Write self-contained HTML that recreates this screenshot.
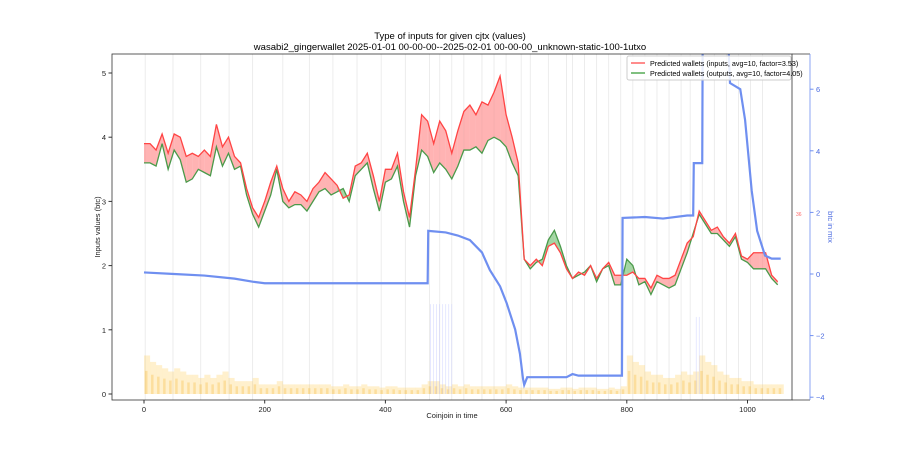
<!DOCTYPE html>
<html><head><meta charset="utf-8"><style>
body{margin:0;background:#fff;}
svg{display:block;font-family:"Liberation Sans","DejaVu Sans",sans-serif;}
</style></head><body>
<svg id="chart" width="900" height="450">
<text x="450" y="39" font-size="9.5" text-anchor="middle">Type of inputs for given cjtx (values)</text>
<text x="450" y="50" font-size="9.5" text-anchor="middle">wasabi2_gingerwallet 2025-01-01 00-00-00--2025-02-01 00-00-00_unknown-static-100-1utxo</text>
<g id="grid"></g>
<g id="bars"></g>
<g id="fills"></g>
<g id="lines"></g>
<g id="axes"></g>
<g>
<rect x="627" y="56" width="164" height="24" fill="#fff" fill-opacity="0.85" stroke="#ccc" rx="2"/>
<line x1="631" y1="63" x2="645" y2="63" stroke="#ff6666" stroke-width="1.5"/>
<text x="650" y="66" font-size="7.2">Predicted wallets (inputs, avg=10, factor=3.53)</text>
<line x1="631" y1="73" x2="645" y2="73" stroke="#55aa55" stroke-width="1.5"/>
<text x="650" y="76" font-size="7.2">Predicted wallets (outputs, avg=10, factor=4.05)</text>
</g>
</svg>
<script>
const xs = [0,10,20,30,40,50,60,70,80,90,100,110,120,130,140,150,160,170,180,190,200,210,220,230,240,250,260,270,280,290,300,310,320,330,340,350,360,370,380,390,400,410,420,430,440,450,460,470,480,490,500,510,520,530,540,550,560,570,580,590,600,610,620,630,640,650,660,670,680,690,700,710,720,730,740,750,760,770,780,790,800,810,820,830,840,850,860,870,880,890,900,910,920,930,940,950,960,970,980,990,1000,1010,1020,1030,1040,1050];
const inputsVals = [3.9,3.9,3.8,4.05,3.75,4.05,4.0,3.7,3.75,3.7,3.8,3.7,4.2,3.85,4.0,3.7,3.6,3.2,2.9,2.75,3.0,3.3,3.55,3.2,3.0,3.15,3.1,3.0,3.2,3.3,3.45,3.35,3.25,3.05,3.1,3.55,3.6,3.75,3.4,3.0,3.5,3.5,3.75,3.15,2.75,3.5,4.35,4.25,3.9,4.25,4.1,3.75,4.1,4.4,4.5,4.35,4.55,4.5,4.7,4.95,4.35,4.0,3.6,2.1,2.0,2.1,2.0,2.3,2.35,2.2,1.95,1.8,1.9,1.85,2.0,1.8,1.95,2.05,1.85,1.85,1.85,1.9,1.8,1.8,1.65,1.85,1.8,1.8,1.85,2.1,2.35,2.45,2.85,2.7,2.55,2.6,2.45,2.35,2.5,2.15,2.1,2.2,2.2,2.2,1.85,1.75];
const outputsVals = [3.6,3.6,3.55,3.9,3.5,3.8,3.65,3.3,3.35,3.5,3.45,3.4,3.85,3.55,3.75,3.5,3.55,3.1,2.8,2.6,2.85,3.1,3.5,3.0,2.9,2.95,2.95,2.85,3.0,3.15,3.2,3.1,3.15,3.2,3.0,3.4,3.5,3.6,3.2,2.85,3.3,3.35,3.55,3.0,2.6,3.4,3.8,3.7,3.45,3.6,3.5,3.35,3.55,3.8,3.8,3.85,3.75,3.95,4.0,3.95,3.85,3.6,3.4,2.1,1.95,2.05,2.1,2.4,2.55,2.3,2.0,1.8,1.85,1.9,2.0,1.75,1.95,2.0,1.7,1.7,2.1,2.0,1.7,1.75,1.55,1.75,1.7,1.65,1.7,1.95,2.2,2.5,2.8,2.65,2.5,2.5,2.4,2.3,2.45,2.1,2.05,1.95,1.95,1.95,1.8,1.7];
const mixX = [0,50,100,150,180,200,300,400,470,471,500,520,540,560,573,590,601,615,623,628,630,635,700,710,720,780,792,793,830,860,900,910,911,925,926,965,971,988,996,1007,1016,1029,1040,1055];
const mixVals = [0.05,0.0,-0.05,-0.15,-0.25,-0.3,-0.3,-0.3,-0.3,1.4,1.35,1.25,1.1,0.7,0.13,-0.4,-0.95,-1.8,-2.6,-3.4,-3.6,-3.35,-3.35,-3.25,-3.3,-3.3,-3.3,1.82,1.85,1.8,1.9,1.9,3.6,3.6,9,9,6.2,6.0,5.0,2.7,1.4,0.6,0.5,0.5];
const barHeights = [0.6,0.5,0.45,0.4,0.35,0.4,0.35,0.3,0.3,0.25,0.3,0.25,0.3,0.35,0.25,0.2,0.2,0.2,0.25,0.15,0.15,0.15,0.2,0.15,0.15,0.15,0.15,0.15,0.15,0.15,0.15,0.12,0.12,0.15,0.12,0.12,0.15,0.12,0.12,0.1,0.12,0.12,0.1,0.1,0.1,0.1,0.15,0.2,0.2,0.15,0.12,0.15,0.12,0.15,0.12,0.12,0.12,0.12,0.12,0.12,0.15,0.12,0.1,0.1,0.1,0.1,0.1,0.08,0.08,0.1,0.1,0.08,0.1,0.1,0.1,0.08,0.08,0.1,0.08,0.12,0.6,0.5,0.45,0.35,0.3,0.3,0.25,0.25,0.3,0.35,0.3,0.35,0.6,0.5,0.45,0.35,0.3,0.25,0.25,0.2,0.2,0.15,0.15,0.15,0.15,0.15];
const gridPositions = [2,48,94,141,180,230,274,313,353,393,433,473,490,510,530,560,580,600,625,640,670,700,710,730,750,770,790,810,830,850,870,890,905,925,945,965,985,1005,1025];
const xTicks = [0,200,400,600,800,1000];
const yTicks = [0,1,2,3,4,5];
const y2Ticks = [-4,-2,0,2,4,6];

const L=112,R=792,T=54,B=400;
const xS=v=>144+v*0.6035;
const yS=v=>394-v*64.2;
const y2S=v=>274-v*30.8;
const NS='http://www.w3.org/2000/svg';
function mk(tag,attrs,parent){const e=document.createElementNS(NS,tag);for(const k in attrs)e.setAttribute(k,attrs[k]);parent.appendChild(e);return e;}
const svg=document.getElementById('chart');
const defs=mk('defs',{},svg);
const cp=mk('clipPath',{id:'clip'},defs);
mk('rect',{x:L,y:T,width:810-L,height:B-T},cp);

const grid=document.getElementById('grid');
gridPositions.forEach(g=>{
  const l=mk('line',{x1:xS(g),x2:xS(g),y1:T,y2:B,stroke:'#e8e8e8','stroke-width':0.8},grid);
  
  
});

const bars=document.getElementById('bars');
barHeights.forEach((h,i)=>{
  const x=xs[i];
  const r=mk('rect',{x:xS(x),y:yS(h),width:6.1,height:yS(0)-yS(h),fill:'#ffc84a','fill-opacity':0.28},bars);
  
  
  const r2=mk('rect',{x:xS(x)+1,y:yS(h*0.6),width:2.5,height:yS(0)-yS(h*0.6),fill:'#f5b530','fill-opacity':0.3},bars);
  
  
});
[475,480,485,490,495,500,505,510,915,920].forEach(v=>{
  const l=mk('line',{x1:xS(v),x2:xS(v),y1:yS(0),y2:yS(v<600?1.4:1.2),stroke:'#b0b8ff','stroke-width':0.6,'stroke-opacity':0.5},bars);
  
  
});

const fills=document.getElementById('fills');
for(let i=0;i<xs.length-1;i++){
  const a=inputsVals[i],b=inputsVals[i+1],c=outputsVals[i],d=outputsVals[i+1];
  const col=(a+b)>=(c+d)?'#ff8080':'#66bb66';
  const p=mk('polygon',{points:`${xS(xs[i])},${yS(a)} ${xS(xs[i+1])},${yS(b)} ${xS(xs[i+1])},${yS(d)} ${xS(xs[i])},${yS(c)}`,fill:col,'fill-opacity':0.6},fills);
  
  
}
const lines=document.getElementById('lines');
const ptsOf=(X,Y,f)=>X.map((x,i)=>xS(x)+','+f(Y[i])).join(' ');
const gl=mk('polyline',{points:ptsOf(xs,outputsVals,yS),fill:'none',stroke:'#4a9a4a','stroke-width':1.3},lines);


const rl=mk('polyline',{points:ptsOf(xs,inputsVals,yS),fill:'none',stroke:'#ff4444','stroke-width':1.3},lines);


const bl=mk('polyline',{points:ptsOf(mixX,mixVals,y2S),fill:'none',stroke:'#6f8ff0','stroke-width':2.2,'clip-path':'url(#clip)'},lines);



const ax=document.getElementById('axes');
mk('rect',{x:L,y:T,width:R-L,height:B-T,fill:'none',stroke:'#333','stroke-width':0.8},ax);
mk('line',{x1:R,x2:810,y1:T,y2:T,stroke:'#333','stroke-width':0.8},ax);
mk('line',{x1:R,x2:810,y1:B,y2:B,stroke:'#333','stroke-width':0.8},ax);
mk('line',{x1:810,x2:810,y1:T,y2:B,stroke:'#6f8ff0','stroke-width':0.8},ax);
xTicks.forEach(t=>{
  mk('line',{x1:xS(t),x2:xS(t),y1:B,y2:B+3.5,stroke:'#333'},ax);
  const tx=mk('text',{x:xS(t),y:B+12,'font-size':7.5,'text-anchor':'middle',fill:'#222'},ax);tx.textContent=t;
  
  
});
yTicks.forEach(t=>{
  mk('line',{x1:L-3.5,x2:L,y1:yS(t),y2:yS(t),stroke:'#333'},ax);
  const tx=mk('text',{x:L-6,y:yS(t)+3,'font-size':7.5,'text-anchor':'end',fill:'#222'},ax);tx.textContent=t;
  
  
});
y2Ticks.forEach(t=>{
  mk('line',{x1:810,x2:813.5,y1:y2S(t),y2:y2S(t),stroke:'#6f8ff0'},ax);
  const tx=mk('text',{x:816,y:y2S(t)+3,'font-size':7.5,fill:'#4a6ae0'},ax);tx.textContent=(t<0?'\u2212'+(-t):t);
  
  
});
const xl=mk('text',{x:452,y:418,'font-size':7.5,'text-anchor':'middle',fill:'#222'},ax);xl.textContent='Coinjoin in time';


const yl=mk('text',{x:0,y:0,'font-size':7.5,'text-anchor':'middle',fill:'#222',transform:'translate(100,227) rotate(-90)'},ax);yl.textContent='Inputs values (btc)';


const y2l=mk('text',{x:0,y:0,'font-size':7.5,'text-anchor':'middle',fill:'#4a6ae0',transform:'translate(828,227) rotate(90)'},ax);y2l.textContent='btc in mix';


const sm=mk('text',{x:796,y:216,'font-size':5,fill:'#ff6666'},ax);sm.textContent='36';


</script>
</body></html>
